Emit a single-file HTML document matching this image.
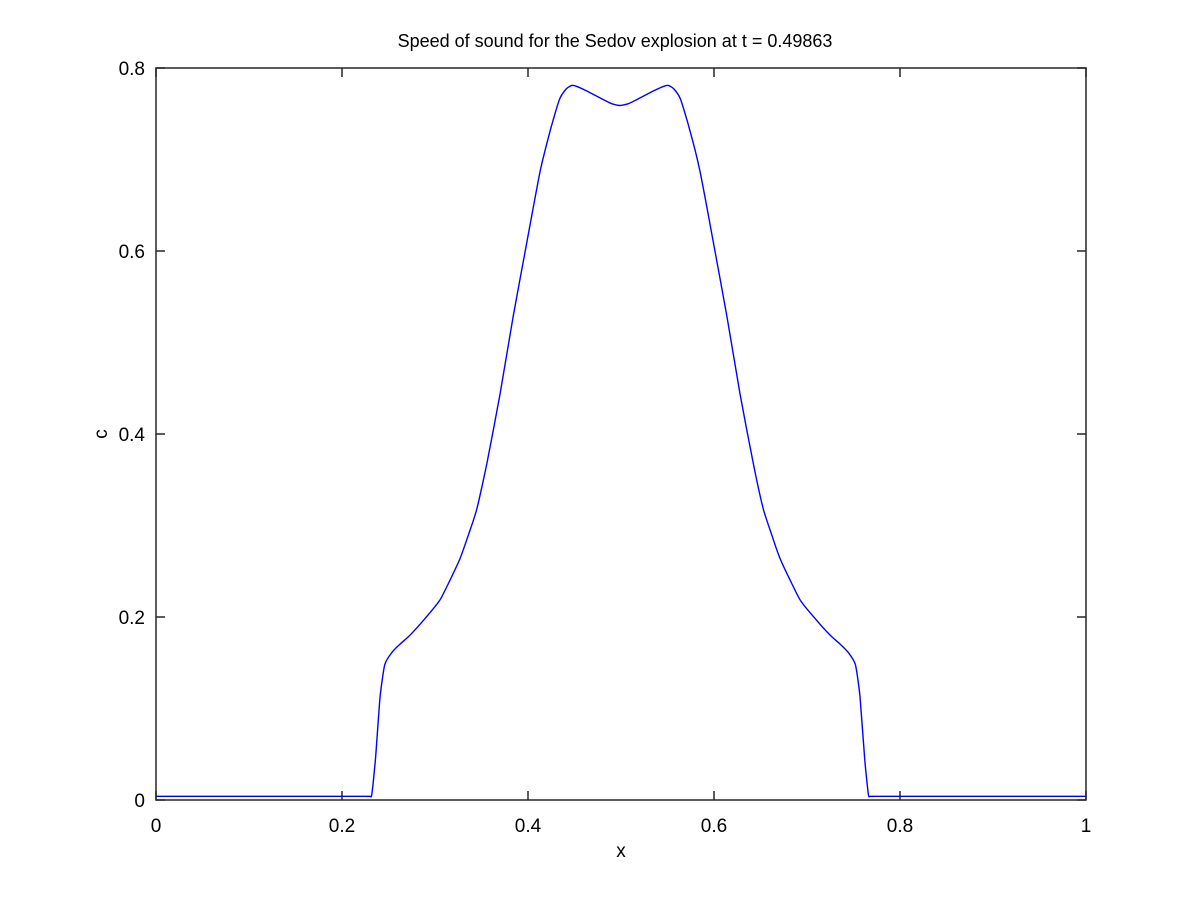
<!DOCTYPE html>
<html><head><meta charset="utf-8"><style>
body{margin:0;background:#fff}
text{font-family:"Liberation Sans",sans-serif;fill:#000}
</style></head><body>
<svg id="chart" width="1200" height="900" xmlns="http://www.w3.org/2000/svg">
<rect width="1200" height="900" fill="#fff"/>
<text x="615" y="47" font-size="18" text-anchor="middle">Speed of sound for the Sedov explosion at t = 0.49863</text>
<g id="axes"></g>
<path id="series" fill="none" stroke="#0000ff" stroke-width="1.4"/>
<rect x="156" y="68" width="930" height="732" fill="none" stroke="#262626" stroke-width="1.5"/>
<text x="621" y="857" font-size="19" text-anchor="middle">x</text>
<text x="0" y="0" font-size="19" text-anchor="middle" transform="translate(107,434) rotate(-90)">c</text>
</svg>
<script>
const xValues=[0,0.1,0.2,0.222,0.23,0.232,0.236,0.241,0.246,0.2534,0.262,0.273,0.289,0.305,0.316,0.327,0.336,0.345,0.356,0.370,0.384,0.399,0.413,0.424,0.434,0.441,0.447,0.452,0.463,0.48,0.49,0.499,0.508,0.518,0.535,0.546,0.551,0.557,0.564,0.574,0.585,0.599,0.614,0.628,0.642,0.653,0.662,0.671,0.682,0.693,0.709,0.725,0.736,0.7446,0.752,0.757,0.762,0.766,0.768,0.776,0.8,0.9,1];
const cValues=[0.004,0.004,0.004,0.004,0.004,0.006,0.045,0.113,0.148,0.161,0.170,0.180,0.198,0.218,0.240,0.264,0.290,0.318,0.369,0.444,0.528,0.611,0.687,0.732,0.766,0.777,0.781,0.780,0.775,0.766,0.761,0.759,0.761,0.766,0.775,0.780,0.781,0.777,0.766,0.732,0.687,0.611,0.528,0.444,0.369,0.318,0.290,0.264,0.240,0.218,0.198,0.180,0.170,0.161,0.148,0.113,0.045,0.006,0.004,0.004,0.004,0.004,0.004];
const xTicks=[0,0.2,0.4,0.6,0.8,1];
const xTickLabels=["0","0.2","0.4","0.6","0.8","1"];
const yTicks=[0,0.2,0.4,0.6,0.8];
const yTickLabels=["0","0.2","0.4","0.6","0.8"];
const L=156,R=1086,T=68,B=800;
const sx=v=>L+(R-L)*v;
const sy=v=>B-(B-T)*v/0.8;
const NS="http://www.w3.org/2000/svg";
const ax=document.getElementById('axes');
function mk(tag,attrs){const e=document.createElementNS(NS,tag);for(const k in attrs)e.setAttribute(k,attrs[k]);ax.appendChild(e);return e;}
xTicks.forEach((v,i)=>{
  let t=mk('line',{x1:sx(v),x2:sx(v),y1:B,y2:B-9,stroke:'#262626','stroke-width':1.5});
  
  
  let t2=mk('line',{x1:sx(v),x2:sx(v),y1:T,y2:T+9,stroke:'#262626','stroke-width':1.5});
  
  
  let l=mk('text',{x:sx(v),y:B+32,'font-size':19,'text-anchor':'middle'});
  l.textContent=xTickLabels[i];
  
  
});
yTicks.forEach((v,i)=>{
  let t=mk('line',{x1:L,x2:L+9,y1:sy(v),y2:sy(v),stroke:'#262626','stroke-width':1.5});
  
  
  let t2=mk('line',{x1:R,x2:R-9,y1:sy(v),y2:sy(v),stroke:'#262626','stroke-width':1.5});
  
  
  let l=mk('text',{x:L-11,y:sy(v)+7,'font-size':19,'text-anchor':'end'});
  l.textContent=yTickLabels[i];
  
  
});
const P=xValues.map((x,i)=>[sx(x),sy(cValues[i])]);
let d='M'+P[0][0].toFixed(1)+','+P[0][1].toFixed(1);
const k=0.6;
for(let i=0;i<P.length-1;i++){
  const p0=P[Math.max(i-1,0)],p1=P[i],p2=P[i+1],p3=P[Math.min(i+2,P.length-1)];
  const c1=[p1[0]+(p2[0]-p0[0])*k/6,p1[1]+(p2[1]-p0[1])*k/6];
  const c2=[p2[0]-(p3[0]-p1[0])*k/6,p2[1]-(p3[1]-p1[1])*k/6];
  d+=' C'+c1[0].toFixed(1)+','+c1[1].toFixed(1)+' '+c2[0].toFixed(1)+','+c2[1].toFixed(1)+' '+p2[0].toFixed(1)+','+p2[1].toFixed(1);
}
document.getElementById('series').setAttribute('d',d);
</script>
</body></html>
